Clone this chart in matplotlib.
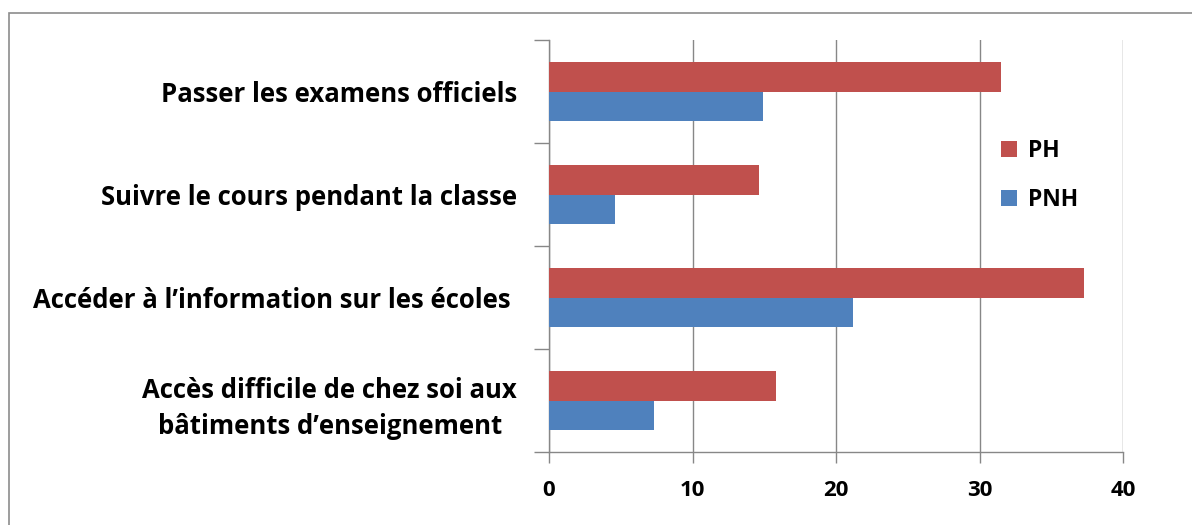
import matplotlib.pyplot as plt
import matplotlib.patches as mpatches
import numpy as np

plt.rcParams['font.family'] = ['Open Sans', 'DejaVu Sans']
plt.rcParams['font.weight'] = 'bold'

# categories, bottom to top
categories = [
    "Accès difficile de chez soi aux\nbâtiments d\u2019enseignement",
    "Accéder à l\u2019information sur les écoles ",
    "Suivre le cours pendant la classe",
    "Passer les examens officiels",
]
ph = [15.8, 37.3, 14.6, 31.5]
pnh = [7.3, 21.2, 4.6, 14.9]
xticks = [0, 10, 20, 30, 40]

red = '#C0504D'
blue = '#4F81BD'
grey = '#878787'

fig = plt.figure(figsize=(11.92, 5.25), dpi=100)
ax = fig.add_axes([549 / 1192, (525 - 452) / 525, (1123 - 549) / 1192, (452 - 40) / 525])

y = np.arange(len(categories))
h = 0.29
ax.barh(y + h / 2, ph, height=h, color=red, label='PH', zorder=3)
ax.barh(y - h / 2, pnh, height=h, color=blue, label='PNH', zorder=3)

ax.set_xlim(0, 40)
ax.set_ylim(-0.5, 3.5)
ax.set_xticks(xticks)
ax.set_xticklabels([str(t) for t in xticks], fontsize=16)
ax.tick_params(axis='x', length=8, width=1, color=grey, pad=12)

ax.set_yticks(np.arange(-0.5, 4, 1))
ax.set_yticklabels([])
ax.tick_params(axis='y', which='major', length=11, width=1, color=grey)
ax.set_yticks(y, minor=True)
ax.set_yticklabels(categories, minor=True, fontsize=18.5, multialignment='center',
                   linespacing=1.45)
ax.tick_params(axis='y', which='minor', length=0, pad=23)

ax.grid(axis='x', color=grey, linewidth=1, zorder=0)
for side in ['top', 'right']:
    ax.spines[side].set_visible(False)
for side in ['left', 'bottom']:
    ax.spines[side].set_color(grey)
    ax.spines[side].set_linewidth(1)

ax.legend(loc='upper left', bbox_to_anchor=(980 / 1192, (525 - 118) / 525),
          bbox_transform=fig.transFigure, frameon=False, fontsize=16.5,
          handlelength=0.7, handleheight=0.7, labelspacing=1.1, handletextpad=0.5)

# outer chart frame (cut off at right and bottom)
fig.patches.append(mpatches.Rectangle((9 / 1192, -0.1), 1.2, (525 - 13) / 525 + 0.1,
                                      transform=fig.transFigure, fill=False,
                                      edgecolor='#8c8c8c', linewidth=1.2))

fig.savefig('out.png', dpi=100)
